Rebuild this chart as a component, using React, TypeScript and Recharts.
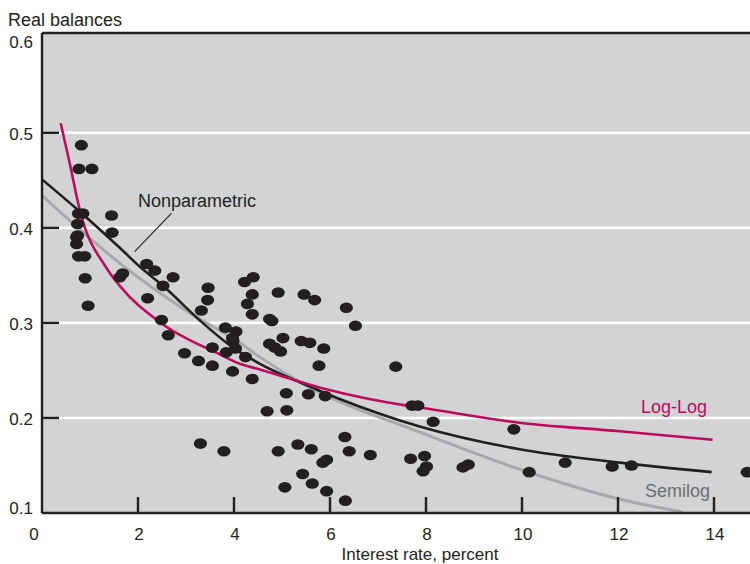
import React from "react"
import {
  ComposedChart,
  Line,
  Scatter,
  XAxis,
  YAxis,
  CartesianGrid,
  ReferenceLine,
} from "recharts"

const INK = "#231f20"
const PANEL = "#d1d3d4"
const MAGENTA = "#be0a5c"
const GREY = "#a7a9ac"
const FONT = '"Liberation Sans", Arial, Helvetica, sans-serif'

const X_TICKS = [0, 2, 4, 6, 8, 10, 12, 14]
const Y_TICKS = [0.1, 0.2, 0.3, 0.4, 0.5, 0.6]
const GRID_VALUES = [0.2, 0.3, 0.4, 0.5]
const X_MAX = 14.75
const Y_MIN = 0.1
const Y_MAX = 0.605

// observations: [interest rate, real balances]
const observations = [
  [0.82, 0.487], [0.77, 0.462], [1.04, 0.462], [0.76, 0.415], [0.85, 0.415],
  [1.45, 0.413], [0.74, 0.404], [0.72, 0.39], [0.74, 0.392], [0.72, 0.383],
  [0.76, 0.37], [0.89, 0.37], [1.46, 0.395], [0.9, 0.347], [0.96, 0.318],
  [1.62, 0.348], [1.68, 0.352], [2.18, 0.362], [2.35, 0.355], [2.73, 0.348],
  [2.52, 0.339], [2.2, 0.326], [3.46, 0.337], [3.45, 0.324], [3.32, 0.313],
  [4.22, 0.343], [4.4, 0.348], [4.38, 0.33], [4.28, 0.32], [4.38, 0.309],
  [2.49, 0.303], [2.63, 0.287], [3.82, 0.295], [4.04, 0.291], [3.97, 0.284],
  [3.98, 0.281], [4.03, 0.273], [3.84, 0.269], [4.24, 0.264], [3.55, 0.274],
  [2.97, 0.268], [3.26, 0.26], [3.55, 0.255], [3.97, 0.249], [4.38, 0.241],
  [4.92, 0.332], [5.46, 0.33], [5.68, 0.324], [6.34, 0.316], [6.53, 0.297],
  [4.74, 0.304], [4.79, 0.302], [4.74, 0.278], [4.85, 0.274], [4.97, 0.27],
  [5.02, 0.284], [5.4, 0.281], [5.58, 0.279], [5.87, 0.273], [5.77, 0.255],
  [7.37, 0.254], [5.09, 0.226], [5.55, 0.225], [5.9, 0.223], [4.69, 0.207],
  [5.1, 0.208], [7.71, 0.213], [7.83, 0.213], [8.15, 0.196], [9.83, 0.188],
  [3.3, 0.173], [3.79, 0.165], [4.92, 0.165], [5.33, 0.172], [5.61, 0.167],
  [6.31, 0.18], [6.4, 0.165], [6.84, 0.161], [5.85, 0.153], [5.93, 0.156],
  [5.43, 0.141], [5.63, 0.131], [5.06, 0.127], [5.93, 0.123], [6.32, 0.113],
  [7.68, 0.157], [7.97, 0.16], [7.94, 0.144], [8.01, 0.149], [8.77, 0.148],
  [8.88, 0.151], [10.15, 0.143], [10.9, 0.153], [11.88, 0.149], [12.28, 0.15],
  [14.69, 0.143],
]

const logLogFit = [
  [0.39, 0.51], [0.56, 0.472], [0.79, 0.418], [1.34, 0.358], [1.62, 0.339],
  [2.45, 0.301], [3.7, 0.267], [4.12, 0.257], [4.54, 0.251], [5.86, 0.231],
  [7.6, 0.213], [7.87, 0.211], [9.95, 0.195], [12.04, 0.186], [13.97, 0.177],
]

const nonparametricFit = [
  [0, 0.451], [0.79, 0.417], [1.62, 0.379], [2.04, 0.359], [2.52, 0.339],
  [3.29, 0.3025], [3.98, 0.274], [4.54, 0.257], [5.37, 0.2375], [6.2, 0.22],
  [7.87, 0.191], [9.95, 0.167], [12.04, 0.153], [13.95, 0.143],
]

const semilogFit = [
  [0, 0.434], [1.69, 0.36], [3.0, 0.313], [4.12, 0.279], [4.54, 0.264],
  [5.51, 0.234], [7.87, 0.185], [9.95, 0.146], [12.04, 0.1145], [13.35, 0.101],
]

const pointer = [[1.93, 0.375], [2.7, 0.4156]]

const toRows = (pts: number[][]) => pts.map(([x, y]) => ({ x, y }))

const dotRows = toRows(observations)
const logLogRows = toRows(logLogFit)
const nonparRows = toRows(nonparametricFit)
const semilogRows = toRows(semilogFit)

const BlobDot = (props: any) => {
  const { cx, cy } = props
  if (cx == null || cy == null) return null
  return <ellipse cx={cx} cy={cy} rx={6.6} ry={5.3} fill={INK} />
}

const XTick = (props: any) => {
  const { x, y, payload } = props
  const v = payload.value
  return (
    <g>
      {v > 0 && (
        <line x1={x} x2={x} y1={y} y2={y - 16} stroke={INK} strokeWidth={2.4} />
      )}
      <text
        x={v === 0 ? x - 8 : x + 1}
        y={y + 27}
        textAnchor="middle"
        fill={INK}
        fontSize={17}
        fontFamily={FONT}
      >
        {v}
      </text>
    </g>
  )
}

const YTick = (props: any) => {
  const { x, y, payload } = props
  const v = payload.value
  const inner = v > 0.15 && v < 0.55
  let base = y + 7
  if (v > 0.55) base = y + 10
  if (v < 0.15) base = y + 1
  return (
    <g>
      {inner && (
        <line x1={x} x2={x + 17} y1={y} y2={y} stroke={INK} strokeWidth={2.4} />
      )}
      <text
        x={x - 9}
        y={base}
        textAnchor="end"
        fill={INK}
        fontSize={17}
        fontFamily={FONT}
      >
        {v.toFixed(1)}
      </text>
    </g>
  )
}

export default function App() {
  return (
    <div
      style={{
        position: "fixed",
        left: 0,
        top: 0,
        width: 750,
        height: 564,
        background: "#fff",
        fontFamily: FONT,
        overflow: "hidden",
      }}
    >
      <ComposedChart
        width={750}
        height={564}
        margin={{ top: 33, right: 0, bottom: 0, left: 0 }}
      >
        <CartesianGrid
          vertical={false}
          horizontalValues={GRID_VALUES}
          fill={PANEL}
          stroke="#ffffff"
          strokeWidth={2.6}
        />
        <XAxis
          type="number"
          dataKey="x"
          domain={[0, X_MAX]}
          ticks={X_TICKS}
          height={51}
          tickSize={0}
          tickMargin={0}
          tick={<XTick />}
          tickLine={false}
          axisLine={{ stroke: INK, strokeWidth: 2.4 }}
          allowDataOverflow
        />
        <YAxis
          type="number"
          dataKey="y"
          domain={[Y_MIN, Y_MAX]}
          ticks={Y_TICKS}
          width={42}
          tickSize={0}
          tickMargin={0}
          tick={<YTick />}
          tickLine={false}
          axisLine={{ stroke: INK, strokeWidth: 2.4 }}
          allowDataOverflow
        />
        <ReferenceLine y={Y_MAX} stroke={INK} strokeWidth={2.4} />
        <Scatter
          data={dotRows}
          dataKey="y"
          shape={BlobDot}
          isAnimationActive={false}
        />
        <Line
          data={semilogRows}
          dataKey="y"
          type="monotone"
          stroke={GREY}
          strokeWidth={3}
          dot={false}
          activeDot={false}
          isAnimationActive={false}
        />
        <Line
          data={nonparRows}
          dataKey="y"
          type="monotone"
          stroke={INK}
          strokeWidth={2.6}
          dot={false}
          activeDot={false}
          isAnimationActive={false}
        />
        <Line
          data={logLogRows}
          dataKey="y"
          type="monotone"
          stroke={MAGENTA}
          strokeWidth={2.6}
          dot={false}
          activeDot={false}
          isAnimationActive={false}
        />
        <ReferenceLine
          segment={pointer.map(([x, y]) => ({ x, y }))}
          stroke={INK}
          strokeWidth={1.1}
        />
      </ComposedChart>
      <svg
        width={750}
        height={564}
        style={{ position: "absolute", left: 0, top: 0, pointerEvents: "none" }}
        fontFamily={FONT}
      >
        <text x={8} y={26} fontSize={18} fill={INK}>
          Real balances
        </text>
        <text x={420} y={560} fontSize={17} fill={INK} textAnchor="middle">
          Interest rate, percent
        </text>
        <text x={138} y={207} fontSize={18} fill={INK}>
          Nonparametric
        </text>
        <text x={707} y={413} fontSize={18} fill={MAGENTA} textAnchor="end">
          Log-Log
        </text>
        <text x={710} y={497} fontSize={18} fill="#6d6e71" textAnchor="end">
          Semilog
        </text>
      </svg>
    </div>
  )
}
